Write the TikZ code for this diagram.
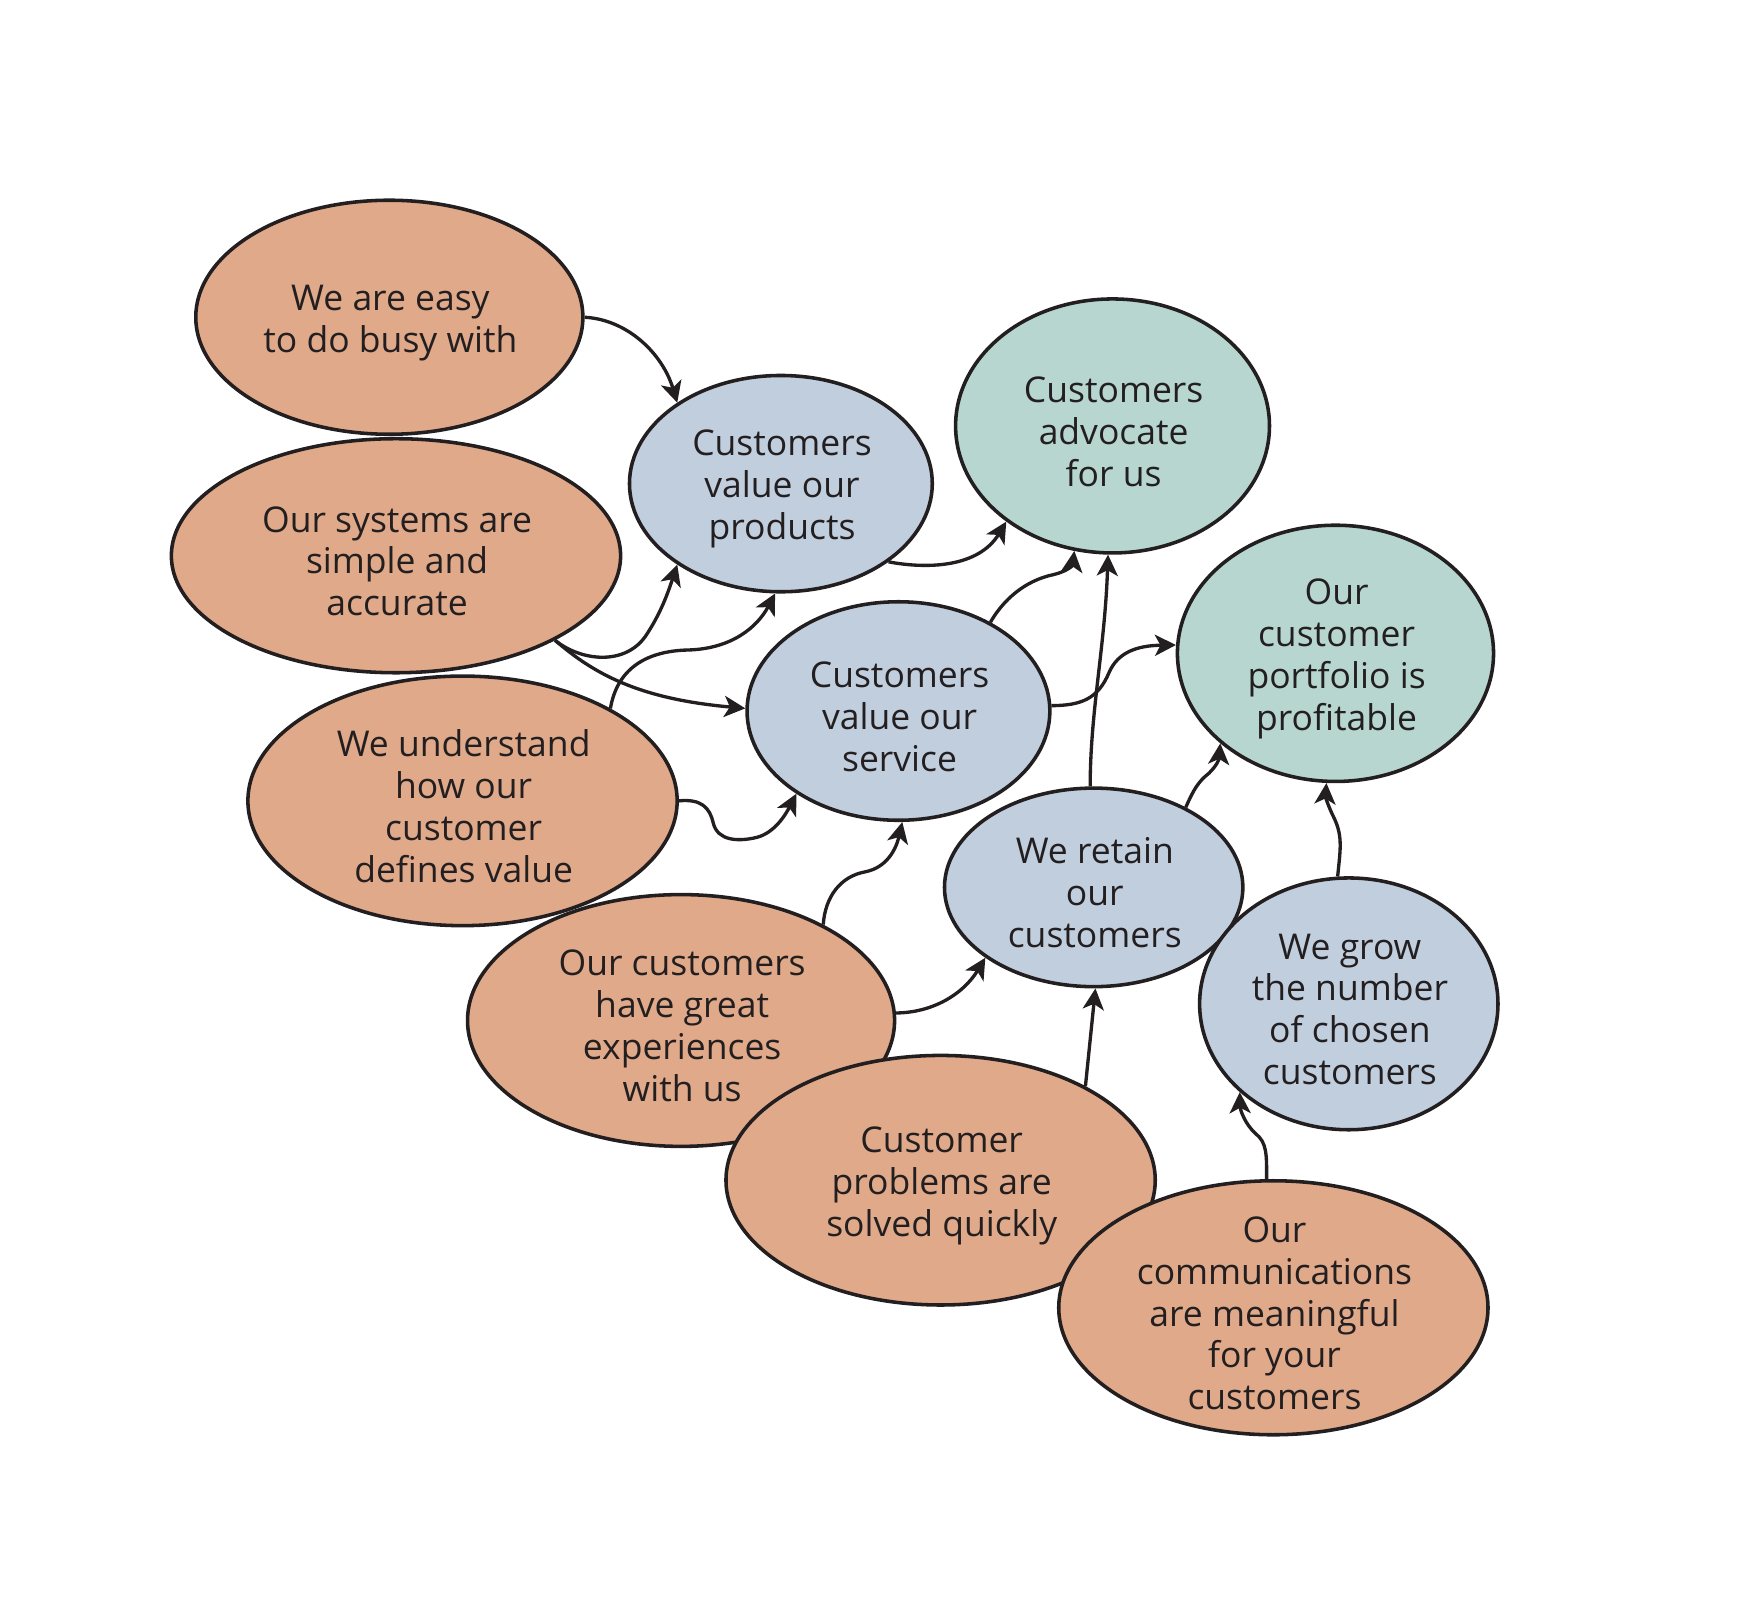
\documentclass[tikz,border=0pt]{standalone}
\usepackage{fontspec}
\setmainfont{Open Sans}
\usetikzlibrary{shapes.geometric,arrows.meta}
\definecolor{ink}{HTML}{231F20}
\definecolor{orgc}{HTML}{DFA98A}
\definecolor{bluc}{HTML}{C1CEDE}
\definecolor{grnc}{HTML}{B6D6CF}
\tikzset{
  ell/.style={ellipse, draw=ink, line width=1.6pt, inner sep=0pt},
  org/.style={ell, fill=orgc},
  blu/.style={ell, fill=bluc},
  grn/.style={ell, fill=grnc},
  txt/.style={align=center, text=ink, inner sep=0pt, yshift=-2.5pt, xshift=0.5pt, font=\fontsize{16}{18.9}\selectfont},
  link/.style={draw=ink, line width=1.5pt, -{Stealth[length=9.5pt,width=9.5pt,inset=2.5pt]}}
}
\begin{document}
\begin{tikzpicture}[x=0.5pt,y=-0.5pt]
\path[use as bounding box] (0,0) rectangle (1566,1458);
% orange causes
\node[org, minimum width=174.5pt, minimum height=105.5pt, label={[txt]center:{We are easy\\to do busy with}}] (A) at (351,286) {};
\node[org, minimum width=202.5pt, minimum height=105.5pt, label={[txt]center:{Our systems are\\simple and\\accurate}}] (B) at (357,501) {};
\node[org, minimum width=193.5pt, minimum height=112.5pt, label={[txt]center:{We understand\\how our\\customer\\defines value}}] (C) at (417,722) {};
\node[org, minimum width=192.5pt, minimum height=113.5pt, label={[txt]center:{Our customers\\have great\\experiences\\with us}}] (D) at (614,920) {};
\node[org, minimum width=193.5pt, minimum height=112.5pt, label={[txt]center:{Customer\\problems are\\solved quickly}}] (E) at (848,1064) {};
\node[org, minimum width=193.5pt, minimum height=114.5pt, label={[txt]center:{Our\\communications\\are meaningful\\for your\\customers}}] (F) at (1148,1179) {};
% blue intermediates
\node[blu, minimum width=136.5pt, minimum height=97.5pt, label={[txt]center:{Customers\\value our\\products}}] (P) at (704,436) {};
\node[blu, minimum width=136.5pt, minimum height=98.5pt, label={[txt]center:{Customers\\value our\\service}}] (S) at (810,641) {};
\node[blu, minimum width=134.5pt, minimum height=89.5pt, label={[txt]center:{We retain\\our\\customers}}] (R) at (986,800) {};
\node[blu, minimum width=134.5pt, minimum height=113.5pt, label={[txt]center:{We grow\\the number\\of chosen\\customers}}] (G) at (1216,905) {};
% green outcomes
\node[grn, minimum width=141.5pt, minimum height=114.5pt, label={[txt]center:{Customers\\advocate\\for us}}] (V) at (1003,384) {};
\node[grn, minimum width=142.5pt, minimum height=115.5pt, label={[txt]center:{Our\\customer\\portfolio is\\profitable}}] (Q) at (1204,589) {};
% connectors
\draw[link] (A.east) .. controls (565,288) and (597,318) .. (P.142);
\draw[link] (B.-28) .. controls (525,597) and (565,600) .. (583,572) .. controls (596,552) and (602,535) .. (P.218);
\draw[link] (B.-28) .. controls (535,607) and (575,630) .. (S.179);
\draw[link] (C.32) .. controls (556,605) and (580,587) .. (620,586) .. controls (660,585) and (683,565) .. (P.267);
\draw[link] (C.east) .. controls (632,720) and (640,728) .. (643,742) .. controls (647,758) and (665,759) .. (682,755) .. controls (698,751) and (708,735) .. (S.219);
\draw[link] (D.34) .. controls (744,808) and (758,790) .. (780,786) .. controls (800,782) and (808,765) .. (S.-88);
\draw[link] (D.2) .. controls (840,913) and (868,897) .. (R.213);
\draw[link] (E.33) -- (R.-89);
\draw[link] (P.-36) .. controls (835,513) and (882,512) .. (V.222);
\draw[link] (S.44) .. controls (908,535) and (930,522) .. (950,518) .. controls (962,515) and (967,510) .. (V.253);
\draw[link] (R.92) .. controls (983,640) and (996,585) .. (V.268);
\draw[link] (S.2) .. controls (975,636) and (990,630) .. (1000,606) .. controls (1008,588) and (1025,582) .. (Q.177);
\draw[link] (R.41) .. controls (1076,712) and (1080,705) .. (1090,697) .. controls (1097,690) and (1099,685) .. (Q.218);
\draw[link] (G.95) .. controls (1208,768) and (1211,755) .. (1203,738) .. controls (1197,726) and (1195,718) .. (Q.266);
\draw[link] (F.93) .. controls (1142,1040) and (1142,1030) .. (1132,1022) .. controls (1122,1013) and (1118,1000) .. (G.219);
\end{tikzpicture}
\end{document}
